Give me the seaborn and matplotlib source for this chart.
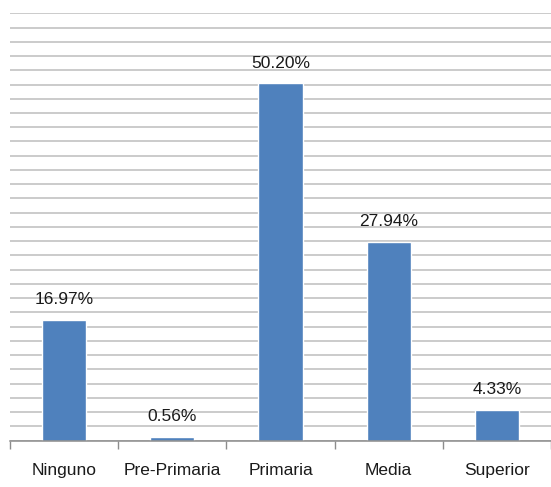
import matplotlib
matplotlib.use("Agg")
import matplotlib.pyplot as plt
import seaborn as sns
import pandas as pd
import numpy as np
from matplotlib import font_manager

categories = ["Ninguno", "Pre-Primaria", "Primaria", "Media", "Superior"]
values = [16.97, 0.56, 50.20, 27.94, 4.33]
labels = ["16.97%", "0.56%", "50.20%", "27.94%", "4.33%"]

sns.set_theme(style="white")
names = {f.name for f in font_manager.fontManager.ttflist}
fam = "Liberation Sans Narrow" if "Liberation Sans Narrow" in names else "Liberation Sans"
plt.rcParams["font.family"] = [fam, "DejaVu Sans"]

df = pd.DataFrame({"cat": categories, "val": values})

fig = plt.figure(figsize=(5.51, 4.87), dpi=100)
ax = fig.add_axes([10/551, 1 - 440.5/487, 1 - 10/551, (440.5 - 13.3)/487])

sns.barplot(data=df, x="cat", y="val", color="#4F81BD", saturation=1, width=0.41, ax=ax)

ax.set_ylim(0, 60)
ax.set_xlim(-0.5, 4.5)
ax.set_yticks(np.arange(0, 61, 2))
ax.yaxis.grid(True, color="#BDBDBD", linewidth=1.1)
ax.set_axisbelow(True)
ax.tick_params(axis="y", left=False, labelleft=False)
ax.set_xlabel("")
ax.set_ylabel("")
for s in ["top", "right", "left"]:
    ax.spines[s].set_visible(False)
ax.spines["bottom"].set_color("#8C8C8C")
ax.spines["bottom"].set_linewidth(1.1)

ax.set_xticks(range(len(categories)))
ax.set_xticklabels(categories, fontsize=12.5, color="#1a1a1a")
ax.set_xticks(np.arange(-0.5, 5, 1), minor=True)
ax.tick_params(axis="x", which="major", length=0, pad=16)
ax.tick_params(axis="x", which="minor", length=6, width=1, color="#8C8C8C", bottom=True)

for i, (v, t) in enumerate(zip(values, labels)):
    ax.annotate(t, (i, v), xytext=(0, 9), textcoords="offset points",
                ha="center", va="bottom", fontsize=12.5, color="#1a1a1a")

fig.savefig("out.png", dpi=100)
